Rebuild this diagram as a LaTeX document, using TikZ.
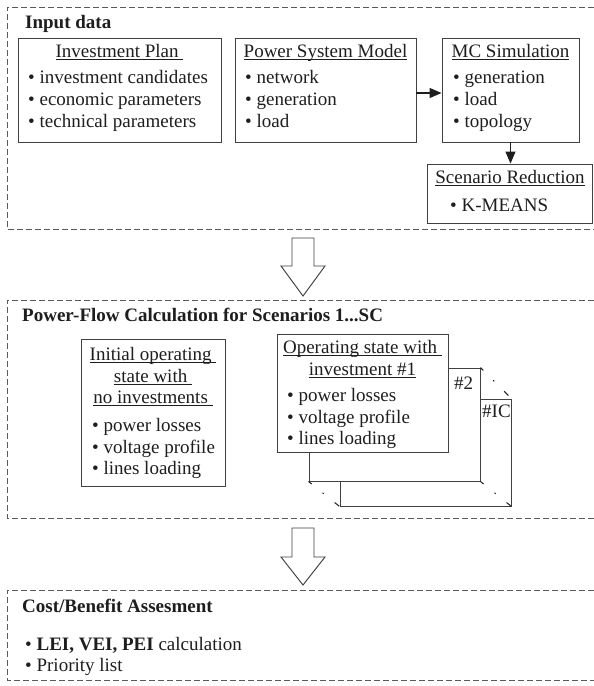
\documentclass[tikz,border=0pt]{standalone}
\usepackage{fontspec}
\setmainfont{Liberation Serif}
\usetikzlibrary{arrows.meta}
\definecolor{ink}{HTML}{1E1E1E}
\definecolor{linec}{HTML}{404040}
\definecolor{dashc}{HTML}{5A5A5A}
\newcommand\myul[1]{\setbox0\hbox{#1}\rlap{\rule[-2.6pt]{\wd0}{0.9pt}}\box0}
\begin{document}
\begin{tikzpicture}[x=1pt,y=-1pt,
  font=\fontsize{19}{22}\selectfont, text=ink,
  box/.style={draw=linec, line width=0.95pt, fill=white, inner sep=0pt},
  grp/.style={draw=dashc, line width=0.9pt, dash pattern=on 6pt off 3pt},
  ttl/.style={anchor=base, inner sep=0pt},
  item/.style={anchor=base west, inner sep=0pt},
  hdr/.style={anchor=base west, inner sep=0pt, font=\fontsize{19}{22}\selectfont\bfseries},
  hollow/.style={draw=linec, line width=0.95pt, fill=white, line join=miter},
  conn/.style={draw=ink, line width=1.1pt, -{Triangle[length=12pt,width=10pt]}},
  stackdots/.style={draw=ink, line width=1pt, dash pattern=on 4pt off 14pt on 1.5pt off 14pt on 6pt off 30pt}
]
\useasboundingbox (0,0) rectangle (594,686);
\fill[white] (0,0) rectangle (594,686);

% ---------- group 1: Input data ----------
\draw[grp] (594,7) -- (7,7) -- (7,229) -- (594,229);
\node[hdr] (h1) at (25,28) {Input data};

\node[box, minimum width=203pt, minimum height=104pt] (ip) at (119.5,90) {};
\node[ttl] (ipT) at (ip.center |- 0,57) {\myul{Investment Plan\ }};
\node[item] (ip1) at (28,83) {\textbullet\ investment candidates};
\node[item] (ip2) at (28,105) {\textbullet\ economic parameters};
\node[item] (ip3) at (28,127) {\textbullet\ technical parameters};

\node[box, minimum width=181pt, minimum height=104pt] (psm) at (325.5,90) {};
\node[ttl] (psmT) at (psm.center |- 0,57) {\myul{Power System Model}};
\node[item] (psm1) at (245,83) {\textbullet\ network};
\node[item] (psm2) at (245,105) {\textbullet\ generation};
\node[item] (psm3) at (245,127) {\textbullet\ load};

\node[box, minimum width=137pt, minimum height=104pt] (mc) at (510.5,90) {};
\node[ttl] (mcT) at (mc.center |- 0,57) {\myul{MC Simulation}};
\node[item] (mc1) at (453,83) {\textbullet\ generation};
\node[item] (mc2) at (453,105) {\textbullet\ load};
\node[item] (mc3) at (453,127) {\textbullet\ topology};

\node[box, minimum width=165pt, minimum height=59pt] (sr) at (510,193.5) {};
\node[ttl] (srT) at (sr.center |- 0,183) {\myul{Scenario Reduction}};
\node[item] (sr1) at (450,211) {\textbullet\ K-MEANS};

\draw[conn] ([yshift=-3pt]psm.east) -- ([yshift=-3pt]mc.west);
\draw[conn] (mc.south) -- (mc.south |- sr.north);

% ---------- hollow arrow 1 ----------
\coordinate (ha1) at (303,238);
\draw[hollow] (ha1) ++(-11,0) -- ++(22,0) -- ++(0,28) -- ++(11,0) -- ++(-22,30) -- ++(-22,-30) -- ++(11,0) -- cycle;

% ---------- group 2: Power flow ----------
\draw[grp] (594,300) -- (7,300) -- (7,518) -- (594,518);
\node[hdr] (h2) at (22,321) {Power-Flow Calculation for Scenarios 1...SC};

\node[box, minimum width=144pt, minimum height=147pt] (init) at (153,412.5) {};
\node[ttl] (initT1) at (init.center |- 0,360) {\myul{Initial operating\ }};
\node[ttl] (initT2) at (init.center |- 0,382) {\myul{state with\ }};
\node[ttl] (initT3) at (init.center |- 0,403) {\myul{no investments\ }};
\node[item] (init1) at (92,431) {\textbullet\ power losses};
\node[item] (init2) at (92,453) {\textbullet\ voltage profile};
\node[item] (init3) at (92,474) {\textbullet\ lines loading};

\node[box, minimum width=171pt, minimum height=107pt] (sIC) at (425.5,452.5) {};
\node[item] (sICl) at (482,417) {\#IC};
\node[box, minimum width=171pt, minimum height=113pt] (s2) at (394.5,424.5) {};
\node[item] (s2l) at (454,389) {\#2};
\draw[stackdots] (s2.north east) -- (sIC.north east);
\draw[stackdots] (s2.south west) -- (sIC.south west);
\draw[stackdots] (s2.south east) -- (sIC.south east);

\node[box, minimum width=171pt, minimum height=118pt] (s1) at (362.5,393) {};
\node[ttl] (s1T1) at (s1.center |- 0,353) {\myul{Operating state with\ }};
\node[ttl] (s1T2) at (s1.center |- 0,375) {\myul{investment \#1}};
\node[item] (s11) at (287,401) {\textbullet\ power losses};
\node[item] (s12) at (287,423) {\textbullet\ voltage profile};
\node[item] (s13) at (287,444) {\textbullet\ lines loading};

% ---------- hollow arrow 2 ----------
\coordinate (ha2) at (303,528);
\draw[hollow] (ha2) ++(-11,0) -- ++(22,0) -- ++(0,29) -- ++(11,0) -- ++(-22,28) -- ++(-22,-28) -- ++(11,0) -- cycle;

% ---------- group 3: Cost/Benefit ----------
\draw[grp] (594,590) -- (7,590) -- (7,680) -- (594,680);
\node[hdr] (h3) at (22,612) {Cost/Benefit Assesment};
\node[item] (cb1) at (25,650) {\textbullet\ \textbf{LEI, VEI, PEI} calculation};
\node[item] (cb2) at (25,671) {\textbullet\ Priority list};
\end{tikzpicture}
\end{document}
